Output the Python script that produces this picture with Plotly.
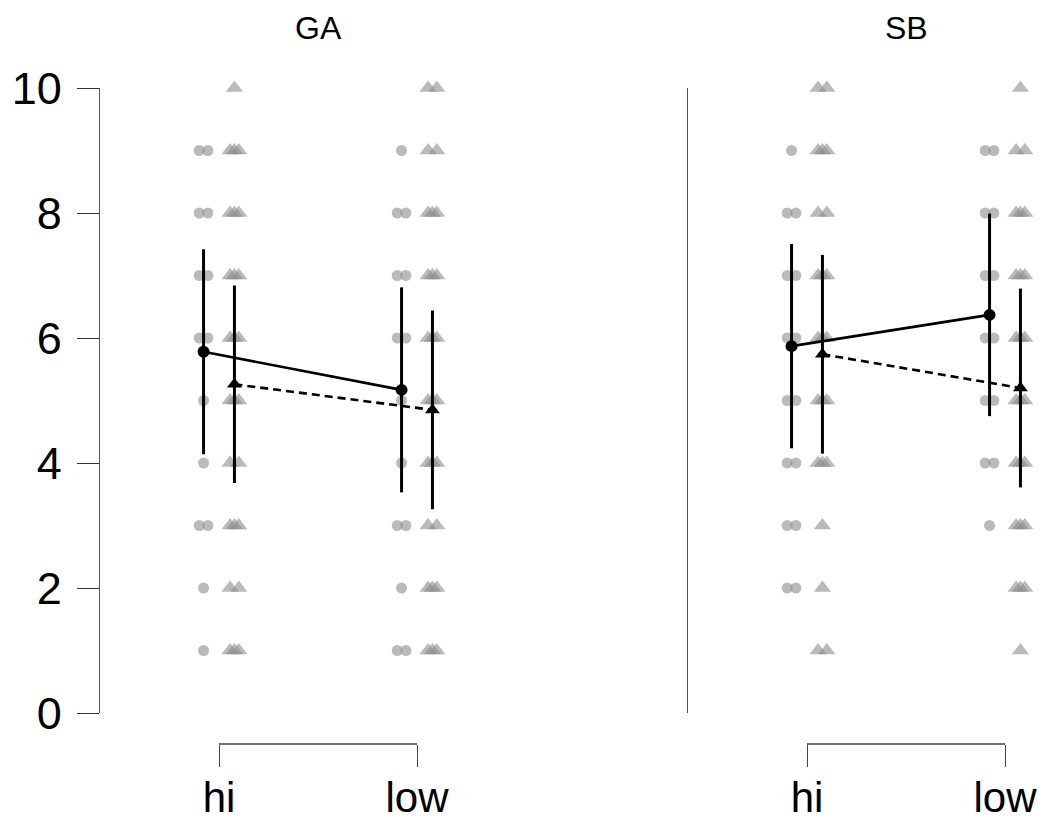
import numpy as np
import plotly.graph_objects as go
from collections import Counter

# ---------------- data ----------------
panels = ["GA", "SB"]
levels = ["hi", "low"]
y_ticks = [0, 2, 4, 6, 8, 10]

# raw ratings (grey points), circles = group A, triangles = group B
ga_hi_circ = [1, 2, 3, 3, 4, 5, 6, 6, 7, 7, 8, 8, 9, 9]
ga_hi_tri = [1, 1, 1, 2, 2, 3, 3, 3, 4, 4, 5, 5, 5, 6, 6, 6, 7, 7, 7, 8, 8, 8, 9, 9, 9, 10]
ga_lo_circ = [1, 1, 2, 3, 3, 4, 5, 6, 6, 7, 7, 8, 8, 9]
ga_lo_tri = [1, 1, 1, 2, 2, 2, 3, 3, 4, 4, 4, 5, 5, 5, 6, 6, 6, 7, 7, 7, 8, 8, 8, 9, 9, 10, 10]
sb_hi_circ = [2, 2, 3, 3, 4, 4, 5, 5, 6, 6, 7, 7, 8, 8, 9]
sb_hi_tri = [1, 1, 2, 3, 4, 4, 4, 5, 5, 5, 6, 6, 6, 7, 7, 7, 8, 8, 9, 9, 9, 10, 10]
sb_lo_circ = [3, 4, 4, 5, 5, 6, 6, 7, 7, 8, 8, 9, 9]
sb_lo_tri = [1, 2, 2, 2, 3, 3, 3, 4, 4, 4, 5, 5, 5, 6, 6, 6, 7, 7, 7, 8, 8, 8, 9, 9, 10]

# means and error half-widths (hi, low)
ga_circ_mean = [5.78, 5.17]
ga_circ_err = [1.64, 1.64]
ga_tri_mean = [5.26, 4.85]
ga_tri_err = [1.58, 1.59]
sb_circ_mean = [5.87, 6.37]
sb_circ_err = [1.635, 1.62]
sb_tri_mean = [5.74, 5.20]
sb_tri_err = [1.59, 1.59]

raw = {
    "GA": {"circ": [ga_hi_circ, ga_lo_circ], "tri": [ga_hi_tri, ga_lo_tri]},
    "SB": {"circ": [sb_hi_circ, sb_lo_circ], "tri": [sb_hi_tri, sb_lo_tri]},
}
means = {
    "GA": {"circ": (ga_circ_mean, ga_circ_err), "tri": (ga_tri_mean, ga_tri_err)},
    "SB": {"circ": (sb_circ_mean, sb_circ_err), "tri": (sb_tri_mean, sb_tri_err)},
}

# ---------------- layout helpers ----------------
W, H = 1044, 823
FONT = "Liberation Sans, Arial, Helvetica, sans-serif"
GROUP_OFF = {"circ": -0.078, "tri": 0.078}
SYMBOL = {"circ": "circle", "tri": "triangle-up"}
GREY = "rgba(140,140,140,0.6)"
BRACKET_Y = 1 - 744 / H


def spread(vals, base):
    xs, ys = [], []
    cnt = Counter(vals)
    for v, n in sorted(cnt.items()):
        offs = [0.0] if n == 1 else list(np.linspace(-0.022, 0.022, n))
        for o in offs:
            xs.append(base + o)
            ys.append(v)
    return xs, ys


fig = go.Figure()

for pi, p in enumerate(panels):
    xa = "x" if pi == 0 else "x2"
    ya = "y" if pi == 0 else "y2"
    for g in ["circ", "tri"]:
        for li in range(2):
            xs, ys = spread(raw[p][g][li], li + 1 + GROUP_OFF[g])
            fig.add_trace(go.Scatter(
                x=xs, y=ys, mode="markers", xaxis=xa, yaxis=ya,
                marker=dict(symbol=SYMBOL[g], size=11 if g == "circ" else 15,
                            color=GREY, line=dict(width=0)),
                cliponaxis=False, showlegend=False, hoverinfo="skip"))
    for g in ["circ", "tri"]:
        m, e = means[p][g]
        fig.add_trace(go.Scatter(
            x=[1 + GROUP_OFF[g], 2 + GROUP_OFF[g]], y=m, mode="lines+markers",
            xaxis=xa, yaxis=ya,
            line=dict(color="black", width=2.6,
                      dash="solid" if g == "circ" else "8px,5px"),
            marker=dict(symbol=SYMBOL[g], size=12 if g == "circ" else 13, color="black"),
            error_y=dict(type="data", array=e, visible=True, color="black",
                         thickness=3, width=0),
            cliponaxis=False, showlegend=False))
    # bracket line between the two category ticks
    fig.add_shape(type="line", xref=xa, yref="paper", x0=1, x1=2,
                  y0=BRACKET_Y, y1=BRACKET_Y, line=dict(color="#444", width=1.3))

ydom = [1 - 713 / H, 1 - 88 / H]
x1dom = [100 / W, 600 / W]
x2dom = [688 / W, 1.0]
PX = 198.0  # pixels per category unit


def xr(axis_px, cat_px, dom):
    lo = 1 - (cat_px - axis_px) / PX
    return [lo, lo + (dom[1] - dom[0]) * W / PX]


xcommon = dict(
    tickvals=[1, 2], ticktext=levels, anchor="free", position=BRACKET_Y,
    side="bottom", showline=False, ticks="outside", ticklen=22, tickwidth=1.3,
    tickcolor="#444", showgrid=False, zeroline=False, automargin=False,
    tickfont=dict(family=FONT, size=42, color="black"), ticklabelstandoff=-5,
)

fig.update_layout(
    width=W, height=H, margin=dict(l=0, r=0, t=0, b=0),
    paper_bgcolor="white", plot_bgcolor="white",
    xaxis=dict(domain=x1dom, range=xr(100, 219, x1dom), **xcommon),
    xaxis2=dict(domain=x2dom, range=xr(688, 807, x2dom), **xcommon),
    yaxis=dict(domain=ydom, range=[0, 10], anchor="x", tickvals=y_ticks,
               showline=True, linecolor="#555", linewidth=1.3,
               ticks="outside", ticklen=22, tickwidth=1.3, tickcolor="#333",
               showgrid=False, zeroline=False, automargin=False,
               tickfont=dict(family=FONT, size=45, color="black"),
               ticklabelstandoff=6),
    yaxis2=dict(domain=ydom, range=[0, 10], anchor="x2", showline=True,
                linecolor="#555", linewidth=1, ticks="", showticklabels=False,
                showgrid=False, zeroline=False, automargin=False),
    showlegend=False,
)

for pi, p in enumerate(panels):
    fig.add_annotation(text=p, x=1.5, xref="x" if pi == 0 else "x2",
                       y=1 - 28 / H, yref="paper", showarrow=False,
                       font=dict(family=FONT, size=32, color="black"),
                       xanchor="center", yanchor="middle")

fig.write_html("out.html", config={"displayModeBar": False},
               post_script="document.body.style.margin='0';document.body.style.overflow='hidden';")
